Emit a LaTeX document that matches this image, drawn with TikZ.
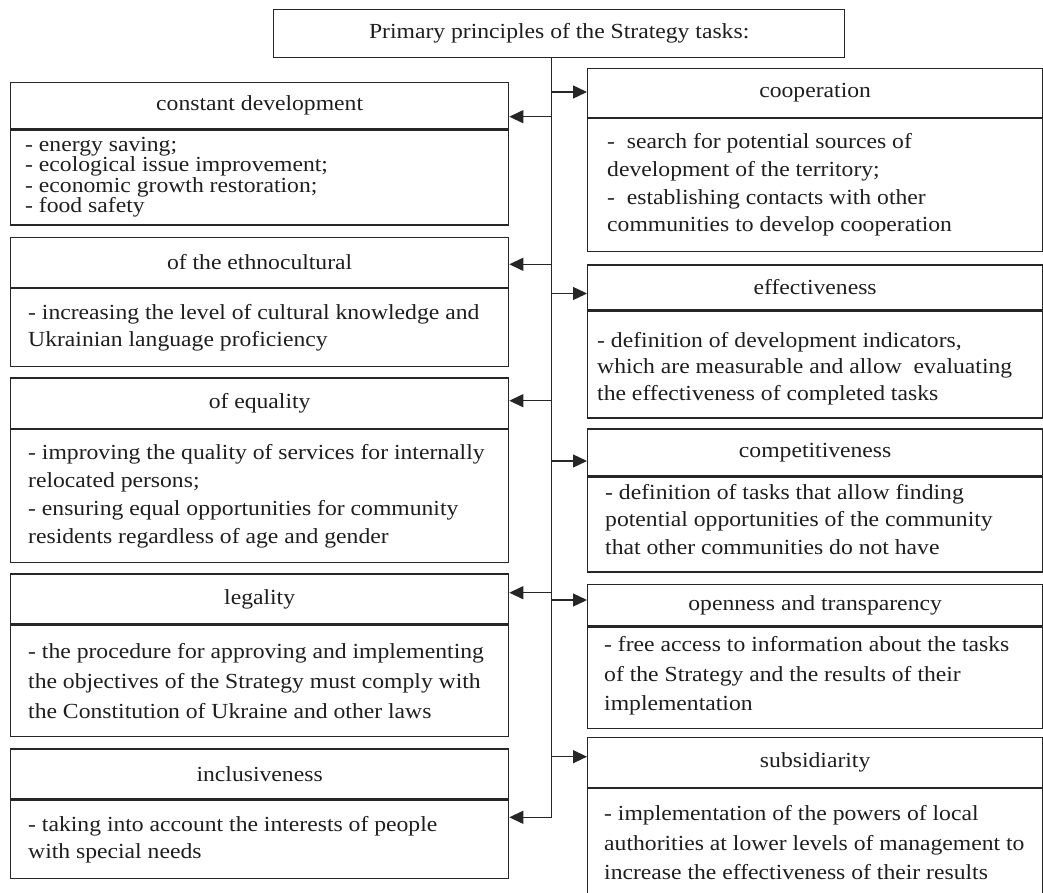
\documentclass[tikz,border=0pt]{standalone}
\usepackage{fontspec}
\setmainfont{Liberation Serif}[FakeStretch=1.1]
\usetikzlibrary{arrows.meta}
\definecolor{ln}{HTML}{262626}
\definecolor{tx}{HTML}{1E1E1E}
\tikzset{
  hdr/.style={draw=ln, line width=1.3pt, anchor=north west, inner sep=0pt,
    text=tx, font=\fontsize{21.5}{26}\selectfont},
  bbox/.style={draw=ln, line width=1.3pt, anchor=north west, inner sep=0pt},
  btxt/.style={anchor=west, align=left, inner sep=0pt, text=tx},
  arr/.style={draw=ln, line width=1.3pt, -{Triangle[length=14pt,width=13pt]}},
  trunkline/.style={draw=ln, line width=1.3pt}
}
\newcommand{\lead}[1]{\fontsize{21.5}{#1}\selectfont}
\begin{document}
\begin{tikzpicture}[x=1pt,y=-1pt]
\useasboundingbox (0,0) rectangle (1043,893);

% title
\node[hdr, minimum width=571pt, minimum height=48pt] (title) at (273,9) {Primary principles of the Strategy tasks:};

% ---------- left column (x = 10, width 498) ----------
\node[hdr, minimum width=498pt, minimum height=46pt] (cdH) at (10,82) {constant development};
\node[bbox, minimum width=498pt, minimum height=95pt] (cdB) at (cdH.south west) {};
\node[btxt, font=\lead{20.5}] (cdT) at ([xshift=15pt]cdB.west) {- energy saving;\\- ecological issue improvement;\\- economic growth restoration;\\- food safety};

\node[hdr, minimum width=498pt, minimum height=50pt] (ethH) at (10,236.7) {of the ethnocultural};
\node[bbox, minimum width=498pt, minimum height=77.6pt] (ethB) at (ethH.south west) {};
\node[btxt, font=\lead{27.3}] (ethT) at ([xshift=18pt]ethB.west) {- increasing the level of cultural knowledge and\\Ukrainian language proficiency};

\node[hdr, minimum width=498pt, minimum height=50.2pt] (eqH) at (10,377.3) {of equality};
\node[bbox, minimum width=498pt, minimum height=133.2pt] (eqB) at (eqH.south west) {};
\node[btxt, font=\lead{27.8}] (eqT) at ([xshift=18pt]eqB.west) {- improving the quality of services for internally\\relocated persons;\\- ensuring equal opportunities for community\\residents regardless of age and gender};

\node[hdr, minimum width=498pt, minimum height=50pt] (legH) at (10,573.3) {legality};
\node[bbox, minimum width=498pt, minimum height=111pt] (legB) at (legH.south west) {};
\node[btxt, font=\lead{30}] (legT) at ([xshift=18pt]legB.west) {- the procedure for approving and implementing\\the objectives of the Strategy must comply with\\the Constitution of Ukraine and other laws};

\node[hdr, minimum width=498pt, minimum height=50pt] (incH) at (10,748.3) {inclusiveness};
\node[bbox, minimum width=498pt, minimum height=78.4pt] (incB) at (incH.south west) {};
\node[btxt, font=\lead{26.7}] (incT) at ([xshift=18pt]incB.west) {- taking into account the interests of people\\with special needs};

% ---------- right column (x = 587, width 455) ----------
\node[hdr, minimum width=455pt, minimum height=49pt] (coH) at (587,67.7) {cooperation};
\node[bbox, minimum width=455pt, minimum height=132.6pt] (coB) at (coH.south west) {};
\node[btxt, font=\lead{27.7}] (coT) at ([xshift=20pt]coB.west) {-\ \ search for potential sources of\\development of the territory;\\-\ \ establishing contacts with other\\communities to develop cooperation};

\node[hdr, minimum width=455pt, minimum height=45pt] (efH) at (587,264.3) {effectiveness};
\node[bbox, minimum width=455pt, minimum height=106.7pt] (efB) at (efH.south west) {};
\node[btxt, font=\lead{26.5}] (efT) at ([xshift=10pt,yshift=-4pt]efB.west) {- definition of development indicators,\\which are measurable and allow\ \ evaluating\\the effectiveness of completed tasks};

\node[hdr, minimum width=455pt, minimum height=46.7pt] (cmH) at (587,428.3) {competitiveness};
\node[bbox, minimum width=455pt, minimum height=95pt] (cmB) at (cmH.south west) {};
\node[btxt, font=\lead{27.5}] (cmT) at ([xshift=18pt,yshift=5pt]cmB.west) {- definition of tasks that allow finding\\potential opportunities of the community\\that other communities do not have};

\node[hdr, minimum width=455pt, minimum height=41pt] (opH) at (587,584) {openness and transparency};
\node[bbox, minimum width=455pt, minimum height=101.7pt] (opB) at (opH.south west) {};
\node[btxt, font=\lead{29.7}] (opT) at ([xshift=17pt,yshift=2pt]opB.west) {- free access to information about the tasks\\of the Strategy and the results of their\\implementation};

\node[hdr, minimum width=455pt, minimum height=49.7pt] (suH) at (587,737) {subsidiarity};
\node[bbox, minimum width=455pt, minimum height=108.3pt] (suB) at (suH.south west) {};
\node[btxt, font=\lead{29.5}] (suT) at ([xshift=17pt]suB.west) {- implementation of the powers of local\\authorities at lower levels of management to\\increase the effectiveness of their results};

% ---------- trunk and arrows ----------
\coordinate (trk) at (551.3,0);
\coordinate (tb) at (551.3,817.3);
\draw[arr] (trk |- title.south) -- (tb) -- (tb -| incB.east);

\coordinate (r1) at (551.3,92);
\coordinate (r2) at (551.3,293.5);
\coordinate (r3) at (551.3,461);
\coordinate (r4) at (551.3,600);
\coordinate (r5) at (551.3,756.7);
\draw[arr] (r1) -- (r1 -| coH.west);
\draw[arr] (r2) -- (r2 -| efH.west);
\draw[arr] (r3) -- (r3 -| cmH.west);
\draw[arr] (r4) -- (r4 -| opH.west);
\draw[arr] (r5) -- (r5 -| suH.west);

\coordinate (l1) at (551.3,116.7);
\coordinate (l2) at (551.3,264.3);
\coordinate (l3) at (551.3,400.7);
\coordinate (l4) at (551.3,592.7);
\draw[arr] (l1) -- (l1 -| cdH.east);
\draw[arr] (l2) -- (l2 -| ethH.east);
\draw[arr] (l3) -- (l3 -| eqH.east);
\draw[arr] (l4) -- (l4 -| legH.east);
\end{tikzpicture}
\end{document}
